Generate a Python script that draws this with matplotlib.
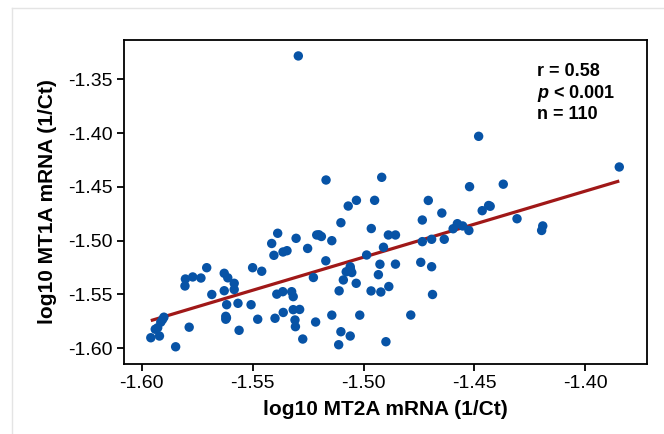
import numpy as np
import matplotlib
matplotlib.use("Agg")
import matplotlib.pyplot as plt
from matplotlib.lines import Line2D

plt.rcParams["font.family"] = ["Liberation Sans", "DejaVu Sans"]
plt.rcParams["mathtext.fontset"] = "custom"
plt.rcParams["mathtext.it"] = "Liberation Sans:italic:bold"

# log10(1/Ct) per sample
mt2a = [
    -1.5294, -1.5169, -1.4918, -1.4481, -1.4522, -1.4370, -1.3847, -1.4708, -1.5032, -1.4950,
    -1.5069, -1.5102, -1.4965, -1.4888, -1.4856, -1.4647, -1.4735, -1.4465, -1.4436, -1.4308,
    -1.4197, -1.4192, -1.4596, -1.4577, -1.4553, -1.4525, -1.4735, -1.4693, -1.4636, -1.4910,
    -1.4986, -1.5387, -1.5414, -1.5304, -1.5211, -1.5190, -1.5143, -1.5404, -1.5363, -1.5345,
    -1.5252, -1.5170, -1.5707, -1.5803, -1.5770, -1.5733, -1.5805, -1.5628, -1.5612, -1.5583,
    -1.5583, -1.5500, -1.5459, -1.5684, -1.5628, -1.5617, -1.5566, -1.5507, -1.5226, -1.5060,
    -1.5078, -1.5053, -1.5091, -1.5033, -1.5110, -1.4966, -1.4922, -1.4886, -1.4926, -1.4933,
    -1.4856, -1.4742, -1.4693, -1.4689, -1.4787, -1.5391, -1.5364, -1.5324, -1.5317, -1.5317,
    -1.5288, -1.5362, -1.5399, -1.5477, -1.5309, -1.5307, -1.5274, -1.5216, -1.5143, -1.5017,
    -1.5102, -1.5060, -1.5112, -1.4899, -1.5621, -1.5621, -1.5561, -1.5786, -1.5847, -1.5900,
    -1.5914, -1.5928, -1.5939, -1.5920, -1.5959, -1.4429, -1.5201, -1.5906, -1.5059, -1.5618,
]
mt1a = [
    -1.3283, -1.4436, -1.4411, -1.4030, -1.4498, -1.4475, -1.4315, -1.4626, -1.4625, -1.4625,
    -1.4678, -1.4833, -1.4887, -1.4947, -1.4947, -1.4743, -1.4808, -1.4721, -1.4673, -1.4796,
    -1.4905, -1.4863, -1.4889, -1.4842, -1.4863, -1.4905, -1.5009, -1.4987, -1.4987, -1.5061,
    -1.5133, -1.4931, -1.5026, -1.4978, -1.4947, -1.4961, -1.5000, -1.5136, -1.5105, -1.5093,
    -1.5072, -1.5187, -1.5251, -1.5356, -1.5337, -1.5347, -1.5421, -1.5303, -1.5345, -1.5396,
    -1.5454, -1.5251, -1.5284, -1.5500, -1.5465, -1.5595, -1.5582, -1.5595, -1.5342, -1.5242,
    -1.5289, -1.5296, -1.5365, -1.5396, -1.5466, -1.5467, -1.5477, -1.5426, -1.5219, -1.5316,
    -1.5218, -1.5201, -1.5242, -1.5500, -1.5691, -1.5497, -1.5474, -1.5474, -1.5520, -1.5641,
    -1.5639, -1.5667, -1.5721, -1.5730, -1.5737, -1.5799, -1.5914, -1.5756, -1.5692, -1.5692,
    -1.5846, -1.5886, -1.5967, -1.5939, -1.5703, -1.5730, -1.5833, -1.5804, -1.5986, -1.5711,
    -1.5757, -1.5809, -1.5823, -1.5886, -1.5902, -1.4680, -1.4945, -1.5732, -1.5263, -1.5717,
]

x_ticks = [-1.60, -1.55, -1.50, -1.45, -1.40]
y_ticks = [-1.60, -1.55, -1.50, -1.45, -1.40, -1.35]
stats_r = "0.58"
stats_p = "0.001"
stats_n = len(mt2a)

x = np.array(mt2a)
y = np.array(mt1a)

fig = plt.figure(figsize=(6.64, 4.34), dpi=100)
ax = fig.add_axes([0.1867, 0.1613, 0.7877, 0.7465])

ax.scatter(x, y, s=46, color="#0753a6", edgecolors="none", zorder=3)

# least-squares line over the observed range
slope, intercept = np.polyfit(x, y, 1)
xs = np.array([x.min(), x.max()])
ax.plot(xs, slope * xs + intercept, color="#a01818", lw=2.3, zorder=2,
        solid_capstyle="butt")

ax.set_xlim(-1.608, -1.3722)
ax.set_ylim(-1.6146, -1.3135)
ax.set_xticks(x_ticks)
ax.set_yticks(y_ticks)
ax.set_xticklabels([f"{v:.2f}" for v in x_ticks])
ax.set_yticklabels([f"{v:.2f}" for v in y_ticks])
ax.tick_params(direction="out", length=5, width=1.3, labelsize=14, pad=3, color="black")
for sp in ax.spines.values():
    sp.set_linewidth(1.3)

ax.set_xlabel("log10 MT2A mRNA (1/Ct)", fontsize=15, fontweight="bold", labelpad=6)
ax.set_ylabel("log10 MT1A mRNA (1/Ct)", fontsize=15, fontweight="bold", labelpad=8)

tx = 0.789
ax.text(tx, 0.888, f"r = {stats_r}", transform=ax.transAxes, fontsize=13,
        fontweight="bold", va="baseline")
ax.text(tx, 0.822, f"$p$ < {stats_p}", transform=ax.transAxes, fontsize=13,
        fontweight="bold", va="baseline")
ax.text(tx, 0.755, f"n = {stats_n}", transform=ax.transAxes, fontsize=13,
        fontweight="bold", va="baseline")

# light page frame
fig.add_artist(Line2D([12 / 664, 1.0], [1 - 8 / 434, 1 - 8 / 434], color="#e4e4e4", lw=1))
fig.add_artist(Line2D([12 / 664, 12 / 664], [0.0, 1 - 8 / 434], color="#e4e4e4", lw=1))

fig.savefig("out.png", dpi=100)
